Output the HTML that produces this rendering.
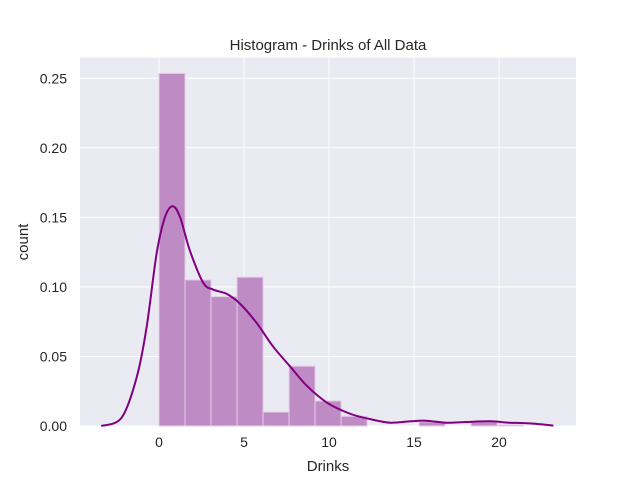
<!DOCTYPE html>
<html><head><meta charset="utf-8"><style>
html,body{margin:0;padding:0;background:#fff;}
svg{display:block;font-family:"Liberation Sans",Arial,sans-serif;}
</style></head><body>
<svg id="chart" width="640" height="478" viewBox="0 0 640 478">
<rect x="80" y="57.5" width="496" height="368.5" fill="#eaeaf2"/>
<g id="grid"></g>
<g id="bars"></g>
<path id="kde" fill="none" stroke="#800080" stroke-width="2"/>
<g id="xticks"></g>
<g id="yticks"></g>
<text x="328" y="50" text-anchor="middle" font-size="15" fill="#262626">Histogram - Drinks of All Data</text>
<text x="328" y="471" text-anchor="middle" font-size="15" fill="#262626">Drinks</text>
<text x="28" y="242" text-anchor="middle" font-size="15" fill="#262626" transform="rotate(-90 28 242)">count</text>
</svg>
<script>
const binStart = 0;
const binWidth = 1.53;
const binHeights = [0.2535, 0.105, 0.093, 0.107, 0.010, 0.043, 0.018, 0.007, 0, 0, 0.003, 0, 0.003, 0.0008];
const kdeX = [-3.4,-2.2,-1.31,-0.73,-0.14,0.35,0.8,1.24,1.82,2.6,3.2,3.98,4.76,5.75,6.72,7.7,8.69,9.86,11.2,12.4,13.6,14.8,15.7,16.9,18.1,19.5,20.6,21.8,23.2];
const kdeY = [0,0.006,0.035,0.071,0.124,0.150,0.158,0.150,0.126,0.103,0.098,0.095,0.088,0.074,0.057,0.043,0.029,0.017,0.009,0.005,0.0024,0.0034,0.0038,0.0024,0.0029,0.0034,0.0024,0.0019,0.0003];
const xTicks = [0,5,10,15,20];
const yTicks = [0.00,0.05,0.10,0.15,0.20,0.25];
const yTickLabels = ["0.00","0.05","0.10","0.15","0.20","0.25"];

const NS="http://www.w3.org/2000/svg";
const X = v => 159 + v*17;
const Y = v => 426 - v*1391;
function mk(tag, attrs, parent){const e=document.createElementNS(NS,tag);for(const k in attrs)e.setAttribute(k,attrs[k]);parent.appendChild(e);return e;}
const grid=document.getElementById('grid'), bars=document.getElementById('bars');
const xt=document.getElementById('xticks'), yt=document.getElementById('yticks');
xTicks.forEach(t=>{
  const l=mk('line',{x1:X(t),x2:X(t),y1:57.5,y2:426,stroke:'#fff','stroke-width':1},grid);
  
  
  const tx=mk('text',{x:X(t),y:447,'text-anchor':'middle','font-size':14,fill:'#262626'},xt);
  tx.textContent=t;
  
  
});
yTicks.forEach((t,i)=>{
  const l=mk('line',{x1:80,x2:576,y1:Y(t),y2:Y(t),stroke:'#fff','stroke-width':1},grid);
  
  
  const tx=mk('text',{x:67,y:Y(t)+5,'text-anchor':'end','font-size':14,fill:'#262626'},yt);
  tx.textContent=yTickLabels[i];
  
  
});
binHeights.forEach((h,i)=>{
  if(h<=0) return;
  const x0=X(binStart+i*binWidth), x1=X(binStart+(i+1)*binWidth);
  const r=mk('rect',{x:x0,y:Y(h),width:x1-x0,height:426-Y(h),fill:'#bf8bc4',stroke:'#e4cde6','stroke-width':1},bars);
  
  
});
const pts=kdeX.map((x,i)=>[X(x),Y(kdeY[i])]);
let d='M'+pts[0][0].toFixed(1)+' '+pts[0][1].toFixed(1);
for(let i=0;i<pts.length-1;i++){
  const p0=pts[Math.max(i-1,0)],p1=pts[i],p2=pts[i+1],p3=pts[Math.min(i+2,pts.length-1)];
  const c1=[p1[0]+(p2[0]-p0[0])/6,p1[1]+(p2[1]-p0[1])/6];
  const c2=[p2[0]-(p3[0]-p1[0])/6,p2[1]-(p3[1]-p1[1])/6];
  d+=' C'+c1.map(v=>v.toFixed(1)).join(' ')+' '+c2.map(v=>v.toFixed(1)).join(' ')+' '+p2.map(v=>v.toFixed(1)).join(' ');
}
document.getElementById('kde').setAttribute('d',d);
</script>
</body></html>
